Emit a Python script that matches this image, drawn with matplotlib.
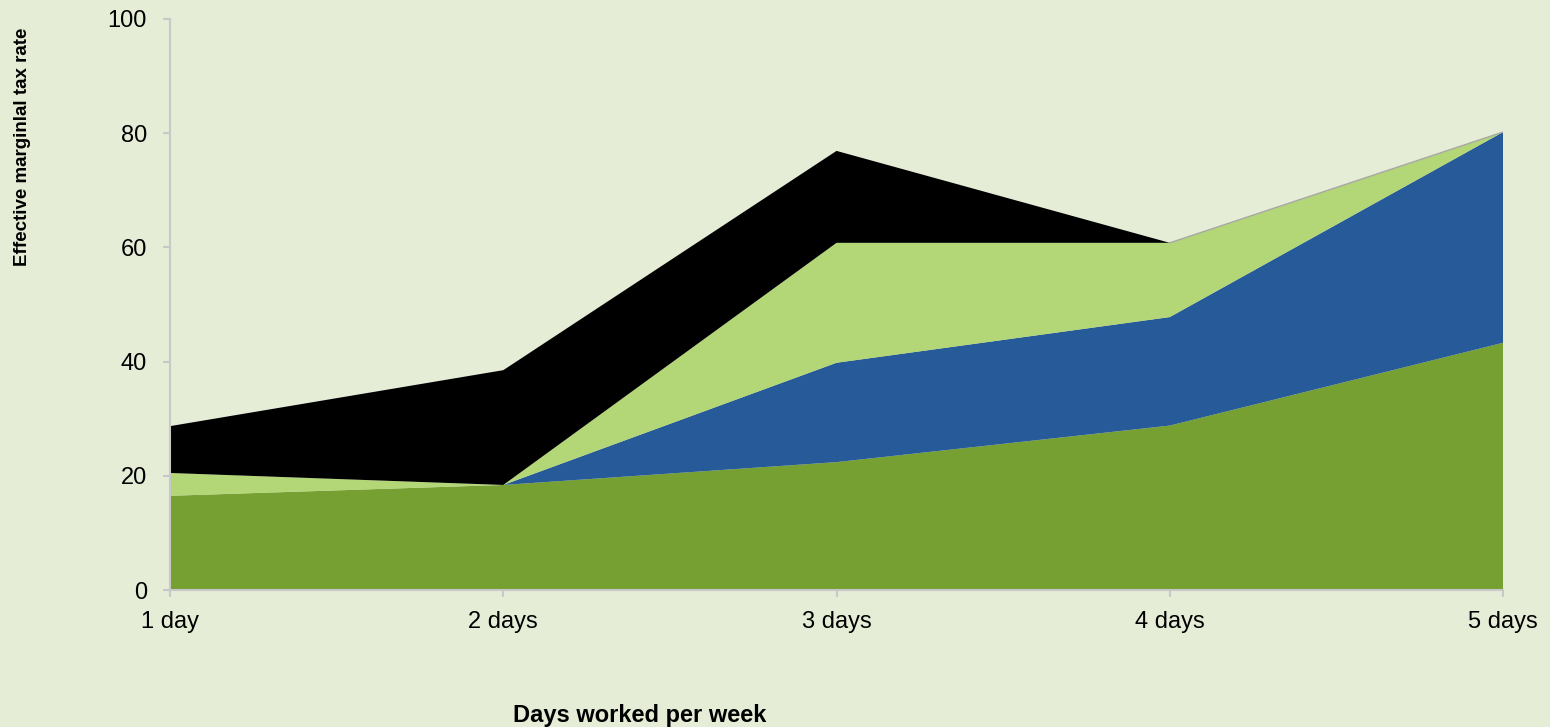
import numpy as np
import matplotlib.pyplot as plt

plt.rcParams['font.family'] = ['Liberation Sans', 'DejaVu Sans']

days = ['1 day', '2 days', '3 days', '4 days', '5 days']
base_rate = [16.5, 18.4, 22.4, 28.8, 43.3]
benefit_loss = [0.0, 0.0, 17.4, 19.0, 36.9]
credit_taper = [4.0, 0.0, 21.0, 13.0, 0.0]
childcare = [8.2, 20.1, 16.1, 0.0, 0.0]

bg = '#e5edd7'
colors = ['#76a032', '#275a98', '#b3d677', '#000000']

fig = plt.figure(figsize=(15.5, 7.27), dpi=100, facecolor=bg)
ax = fig.add_axes([0.1097, 0.1884, 0.86, 0.7855], facecolor=bg)

x = np.arange(len(days))
ax.stackplot(x, base_rate, benefit_loss, credit_taper, childcare,
             colors=colors, linewidth=0)
# thin grey outline along the top of the stack
top = np.sum([base_rate, benefit_loss, credit_taper, childcare], axis=0)
ax.plot(x[3:], top[3:], color='#a8a8a8', linewidth=1)

ax.set_xlim(0, len(days) - 1)
ax.set_ylim(0, 100)
ax.set_xticks(x)
ax.set_xticklabels(days)
ax.set_yticks(np.arange(0, 101, 20))
ax.tick_params(axis='both', labelsize=17, color='#c8c8c8', length=5, width=1.5)
ax.tick_params(axis='y', pad=11.5)
ax.tick_params(axis='x', pad=10)
for side in ['top', 'right']:
    ax.spines[side].set_visible(False)
for side in ['left', 'bottom']:
    ax.spines[side].set_color('#c8c8c8')
    ax.spines[side].set_linewidth(1.5)

fig.text(0.0142, 0.798, 'Effective marginlal tax rate', rotation=90,
         ha='center', va='center', fontsize=13.5, fontweight='bold')
fig.text(0.413, 0.0069, 'Days worked per week', ha='center', va='baseline',
         fontsize=17, fontweight='bold')

fig.savefig('out.png', dpi=100, facecolor=bg)
